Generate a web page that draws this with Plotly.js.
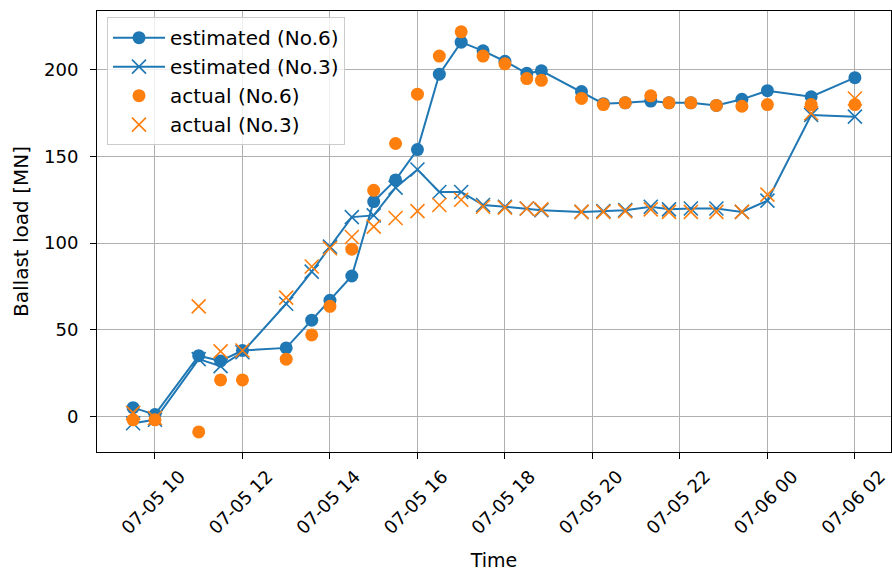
<!DOCTYPE html>
<html>
<head>
<meta charset="utf-8">
<script src="https://cdn.plot.ly/plotly-3.0.1.min.js"></script>
<style>
  html, body { margin: 0; padding: 0; background: #fff; }
  #chart { width: 892px; height: 572px; }
</style>
</head>
<body>
<div id="chart"></div>
<script>
// Measurement times
const times = [
  '2021-07-05 09:30', '2021-07-05 10:00', '2021-07-05 11:00', '2021-07-05 11:30',
  '2021-07-05 12:00', '2021-07-05 13:00', '2021-07-05 13:35', '2021-07-05 14:00',
  '2021-07-05 14:30', '2021-07-05 15:00', '2021-07-05 15:30', '2021-07-05 16:00',
  '2021-07-05 16:30', '2021-07-05 17:00', '2021-07-05 17:30', '2021-07-05 18:00',
  '2021-07-05 18:30', '2021-07-05 18:50', '2021-07-05 19:45', '2021-07-05 20:15',
  '2021-07-05 20:45', '2021-07-05 21:20', '2021-07-05 21:45', '2021-07-05 22:15',
  '2021-07-05 22:50', '2021-07-05 23:25', '2021-07-06 00:00', '2021-07-06 01:00',
  '2021-07-06 02:00'
];

// Ballast load [MN]
const estimatedNo6 = [5, 1, 35, 32, 38, 39.5, 55.5, 67, 81, 124, 136.5, 154, 197.5, 216,
  211, 205, 198, 199.5, 187.5, 180.5, 181, 182, 181, 181, 179.5, 183, 188, 184.5, 195.5];
const estimatedNo3 = [-4, -2, 33, 29, 37, 65, 83.5, 98, 115, 116, 132, 142.5, 129.5, 129.5,
  122, 121, 120, 119, 118, 118.5, 119, 121, 119.5, 120, 120, 118, 124.5, 174, 173];
const actualNo6 = [-2, -2, -9, 21, 21, 33, 47, 63.5, 96.5, 130.5, 157.5, 186, 208, 222,
  208, 203.5, 195, 194, 183.5, 180, 181, 185, 181, 181, 179.5, 179, 180, 180, 180];
const actualNo3 = [2, -1, 63.5, 37.5, 38, 68.5, 86.5, 97, 103.5, 109.5, 114.5, 118.5, 122, 125,
  121, 120.5, 120, 119.5, 118, 118, 118.5, 119.5, 118, 118, 118, 118, 128, 175, 183.5];

const tickVals = [
  '2021-07-05 10:00', '2021-07-05 12:00', '2021-07-05 14:00', '2021-07-05 16:00',
  '2021-07-05 18:00', '2021-07-05 20:00', '2021-07-05 22:00', '2021-07-06 00:00',
  '2021-07-06 02:00'
];
const tickText = ['07-05 10', '07-05 12', '07-05 14', '07-05 16', '07-05 18',
  '07-05 20', '07-05 22', '07-06 00', '07-06 02'];

const BLUE = '#1f77b4';
const ORANGE = '#ff7f0e';
const FONT = 'DejaVu Sans, sans-serif';

const traces = [
  {
    x: times, y: estimatedNo6, name: 'estimated (No.6)', type: 'scatter',
    mode: 'lines+markers', legendrank: 1,
    line: { color: BLUE, width: 2 },
    marker: { color: BLUE, size: 13, symbol: 'circle' }
  },
  {
    x: times, y: estimatedNo3, name: 'estimated (No.3)', type: 'scatter',
    mode: 'lines+markers', legendrank: 2,
    line: { color: BLUE, width: 2 },
    marker: { color: BLUE, size: 14, symbol: 'x-thin', line: { color: BLUE, width: 1.6 } }
  },
  {
    x: times, y: actualNo3, name: 'actual (No.3)', type: 'scatter',
    mode: 'markers', legendrank: 4,
    marker: { color: ORANGE, size: 14, symbol: 'x-thin', line: { color: ORANGE, width: 1.6 } }
  },
  {
    x: times, y: actualNo6, name: 'actual (No.6)', type: 'scatter',
    mode: 'markers', legendrank: 3,
    marker: { color: ORANGE, size: 13, symbol: 'circle' }
  }
];

const layout = {
  width: 892, height: 572,
  margin: { l: 97, r: 1, t: 11, b: 120 },
  paper_bgcolor: '#fff', plot_bgcolor: '#fff',
  font: { family: FONT, size: 18, color: '#000' },
  showlegend: true,
  legend: {
    x: 0.0126, y: 0.986, xanchor: 'left', yanchor: 'top',
    bgcolor: 'rgba(255,255,255,0.8)', bordercolor: '#cccccc', borderwidth: 1,
    font: { family: FONT, size: 20, color: '#000' },
    itemwidth: 52,
    traceorder: 'normal'
  },
  xaxis: {
    type: 'date',
    range: ['2021-07-05 08:40:30', '2021-07-06 02:49:30'],
    tickmode: 'array', tickvals: tickVals, ticktext: tickText,
    tickangle: -45,
    ticklabelshift: 25,
    ticklabeloverflow: 'allow',
    tickfont: { family: FONT, size: 18, color: '#000' },
    ticks: 'outside', ticklen: 6, tickwidth: 1, tickcolor: '#000',
    showgrid: true, gridcolor: '#b0b0b0', gridwidth: 1,
    showline: true, mirror: true, linecolor: '#000', linewidth: 1,
    zeroline: false,
    title: { text: 'Time', font: { family: FONT, size: 19, color: '#000' }, standoff: 16 }
  },
  yaxis: {
    range: [-20.6, 234],
    tickmode: 'array', tickvals: [0, 50, 100, 150, 200],
    ticktext: ['0', '50', '100', '150', '200'],
    ticklabelstandoff: 8,
    tickfont: { family: FONT, size: 18, color: '#000' },
    ticks: 'outside', ticklen: 6, tickwidth: 1, tickcolor: '#000',
    showgrid: true, gridcolor: '#b0b0b0', gridwidth: 1,
    showline: true, mirror: true, linecolor: '#000', linewidth: 1,
    zeroline: false,
    title: { text: 'Ballast load [MN]', font: { family: FONT, size: 20, color: '#000' }, standoff: 10 }
  }
};

Plotly.newPlot('chart', traces, layout, { displayModeBar: false, staticPlot: true });
</script>
</body>
</html>
